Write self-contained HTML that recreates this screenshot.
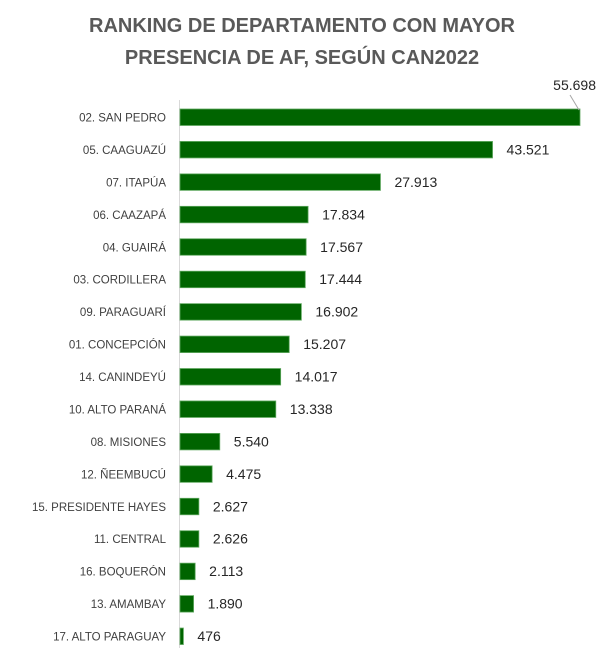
<!DOCTYPE html>
<html><head><meta charset="utf-8"><style>
body{margin:0;background:#fff;width:600px;height:659px;overflow:hidden;font-family:"Liberation Sans",sans-serif}
</style></head><body>
<svg id="c" width="600" height="659">
<text x="302" y="32" text-anchor="middle" font-size="20" font-weight="bold" fill="#595959">RANKING DE DEPARTAMENTO CON MAYOR</text>
<text x="302" y="64" text-anchor="middle" font-size="20" font-weight="bold" fill="#595959">PRESENCIA DE AF, SEGÚN CAN2022</text>
<line x1="179.5" y1="100" x2="179.5" y2="648" stroke="#d9d9d9"/>
<g id="bars"></g>
</svg>
<script>
const categories=["02. SAN PEDRO","05. CAAGUAZÚ","07. ITAPÚA","06. CAAZAPÁ","04. GUAIRÁ","03. CORDILLERA","09. PARAGUARÍ","01. CONCEPCIÓN","14. CANINDEYÚ","10. ALTO PARANÁ","08. MISIONES","12. ÑEEMBUCÚ","15. PRESIDENTE HAYES","11. CENTRAL","16. BOQUERÓN","13. AMAMBAY","17. ALTO PARAGUAY"];
const values=[55698,43521,27913,17834,17567,17444,16902,15207,14017,13338,5540,4475,2627,2626,2113,1890,476];
const x0=180,xMax=580,maxV=55698;
const xs=v=>x0+(v/maxV)*(xMax-x0);
const ys=i=>117+i*32.44;
const fmt=v=>v>=1000?Math.floor(v/1000)+"."+String(v%1000).padStart(3,"0"):String(v);
const g=document.getElementById('bars');
const NS="http://www.w3.org/2000/svg";
categories.forEach((c,i)=>{
  const y=ys(i);
  const t=document.createElementNS(NS,'text');
  t.setAttribute('x',166);t.setAttribute('y',y+4.5);t.setAttribute('text-anchor','end');
  t.setAttribute('font-size','11.5');t.setAttribute('fill','#404040');t.textContent=c;
  
  
  g.appendChild(t);
  const r=document.createElementNS(NS,'rect');
  r.setAttribute('x',x0);r.setAttribute('y',y-8);r.setAttribute('width',Math.max(1,xs(values[i])-x0));r.setAttribute('height',16.5);
  r.setAttribute('fill','#006400');r.setAttribute('stroke','#5fa85f');r.setAttribute('stroke-width','0.8');
  
  
  g.appendChild(r);
  const v=document.createElementNS(NS,'text');
  v.setAttribute('font-size','14');v.setAttribute('fill','#262626');v.textContent=fmt(values[i]);
  
  
  if(i===0){
    v.setAttribute('x',xs(values[i])+16);v.setAttribute('y',y-27);v.setAttribute('text-anchor','end');
    const l=document.createElementNS(NS,'line');
    l.setAttribute('x1',xs(values[i])-10);l.setAttribute('y1',y-22);l.setAttribute('x2',xs(values[i])-1);l.setAttribute('y2',y-7);
    l.setAttribute('stroke','#a6a6a6');
    
    
    g.appendChild(l);
  } else {
    v.setAttribute('x',xs(values[i])+14);v.setAttribute('y',y+5);
  }
  g.appendChild(v);
});
</script>
</body></html>
